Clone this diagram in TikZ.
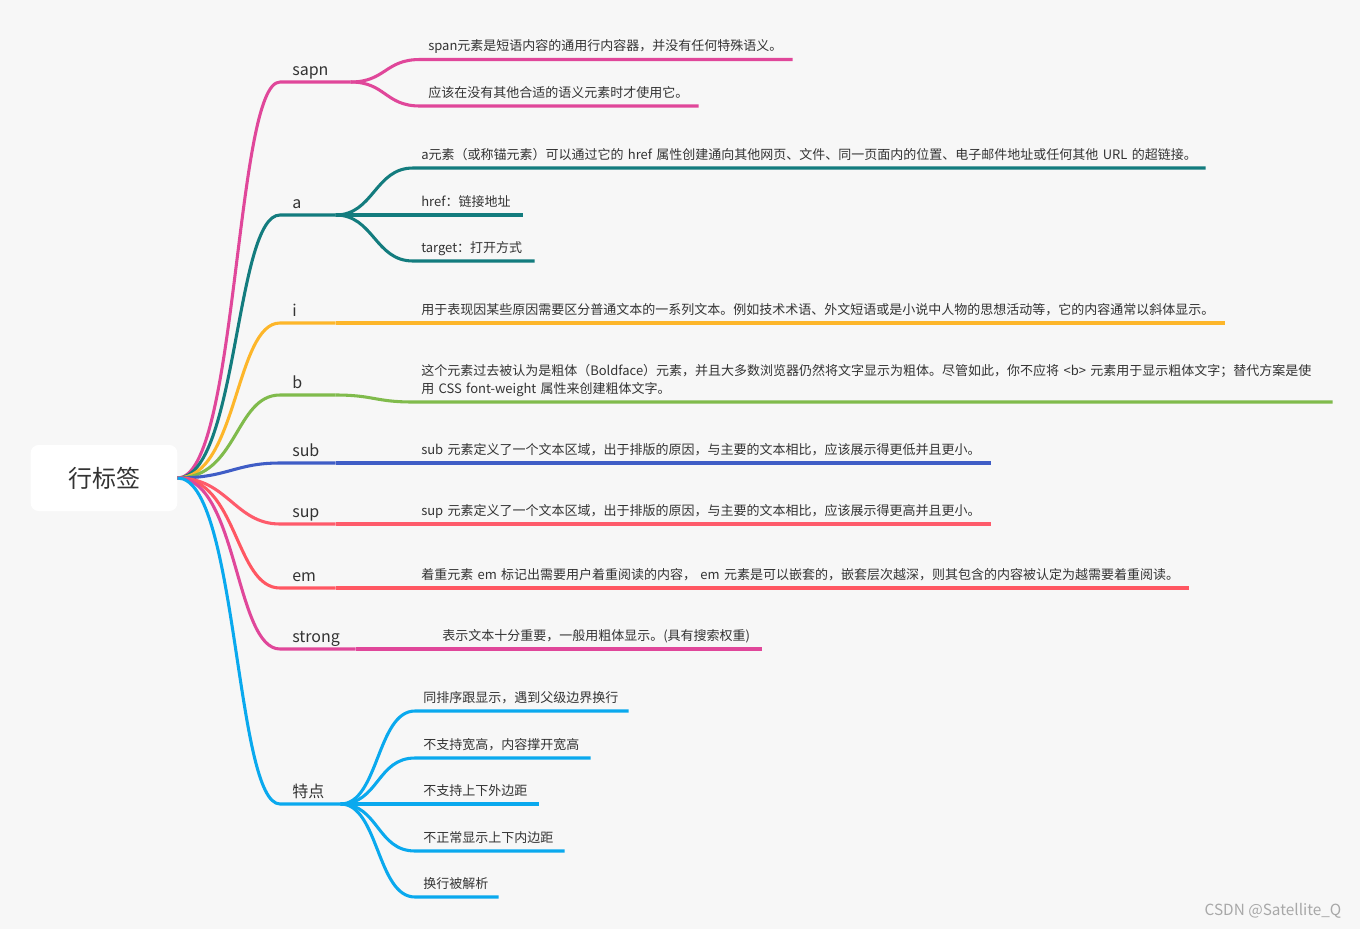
\documentclass[tikz,border=0pt]{standalone}
\usepackage{fontspec}
\setmainfont{Noto Sans CJK SC}
\usepackage{xcolor}
\definecolor{mmback}{HTML}{F7F7F7}
\definecolor{mmink}{HTML}{333333}
\definecolor{mmpink}{HTML}{E0479A}
\definecolor{mmteal}{HTML}{137C7E}
\definecolor{mmorange}{HTML}{FDB62A}
\definecolor{mmgreen}{HTML}{80BB4C}
\definecolor{mmblue}{HTML}{3F5DC6}
\definecolor{mmcoral}{HTML}{FE5B6B}
\definecolor{mmred}{HTML}{FF5762}
\definecolor{mmsky}{HTML}{0AA9EE}
\definecolor{mmmark}{HTML}{A8A8A8}

\begin{document}
\begin{tikzpicture}[
  x=0.75pt, y=-0.75pt,
  font=\rmfamily,
  rootcard/.style={
    fill=white,
    text=mmink,
    rounded corners=6pt,
    font=\fontsize{18}{22}\selectfont,
    minimum width=110pt,
    minimum height=49.5pt,
    inner sep=0pt
  },
  topic/.style={
    anchor=south west,
    text=mmink,
    align=left,
    font=\fontsize{12}{14}\selectfont,
    text width=#1,
    text depth=0pt,
    inner xsep=9pt,
    inner ysep=4.6pt
  },
  leaf/.style={
    anchor=south west,
    text=mmink,
    align=left,
    font=\fontsize{9.75}{13.5}\selectfont,
    text width=#1,
    text depth=0pt,
    inner xsep=6pt,
    inner ysep=6.4pt
  },
  branch/.style={
    draw=#1,
    line width=2.3pt,
    line join=round
  }
]
\path[fill=mmback] (0,0) rectangle (1360,929);
\useasboundingbox (0,0) rectangle (1360,929);

\node[rootcard] (root) at (104,478) {行标签};

\node[topic=34.5pt] (sapn) at (280,82) {sapn};
\node[leaf=267pt] (sapnA) at (420,59.5) {span元素是短语内容的通用行内容器，并没有任何特殊语义。};
\node[leaf=196.5pt] (sapnB) at (420,106) {应该在没有其他合适的语义元素时才使用它。};

\node[topic=23.25pt] (a) at (280,215) {a};
\node[leaf=582pt] (aA) at (413,168) {a元素（或称锚元素）可以通过它的~href~属性创建通向其他网页、文件、同一页面内的位置、电子邮件地址或任何其他~URL~的超链接。};
\node[leaf=69.75pt] (aB) at (413,215) {href：链接地址};
\node[leaf=78.75pt] (aC) at (413,261) {target：打开方式};

\node[topic=23.25pt] (i) at (280,323) {i};
\node[leaf=596.25pt] (iA) at (413,323) {用于表现因某些原因需要区分普通文本的一系列文本。例如技术术语、外文短语或是小说中人物的思想活动等，它的内容通常以斜体显示。};

\node[topic=23.25pt] (b) at (280,395) {b};
\node[leaf=677.25pt,text depth=13.5pt] (bA) at (413,402) {这个元素过去被认为是粗体（Boldface）元素，并且大多数浏览器仍然将文字显示为粗体。尽管如此，你不应将~<b>~元素用于显示粗体文字；替代方案是使\\用~CSS~font-weight~属性来创建粗体文字。};

\node[topic=23.25pt] (sub) at (280,463) {sub};
\node[leaf=420.75pt] (subA) at (413,463) {sub~元素定义了一个文本区域，出于排版的原因，与主要的文本相比，应该展示得更低并且更小。};

\node[topic=23.25pt] (sup) at (280,524) {sup};
\node[leaf=420.75pt] (supA) at (413,524) {sup~元素定义了一个文本区域，出于排版的原因，与主要的文本相比，应该展示得更高并且更小。};

\node[topic=23.25pt] (em) at (280,588) {em};
\node[leaf=569.25pt] (emA) at (413,588) {着重元素~em~标记出需要用户着重阅读的内容，~em~元素是可以嵌套的，嵌套层次越深，则其包含的内容被认定为越需要着重阅读。};

\node[topic=38.25pt] (strong) at (280,649) {strong};
\node[leaf=233.25pt] (strongA) at (434,649) {表示文本十分重要，一般用粗体显示。(具有搜索权重)};

\node[topic=27pt] (feat) at (280,804) {特点};
\node[leaf=147.75pt] (featA) at (415,711) {同排序跟显示，遇到父级边界换行};
\node[leaf=119.25pt] (featB) at (415,758) {不支持宽高，内容撑开宽高};
\node[leaf=80.25pt] (featC) at (415,804) {不支持上下外边距};
\node[leaf=99.75pt] (featD) at (415,851) {不正常显示上下内边距};
\node[leaf=50.25pt] (featE) at (415,897) {换行被解析};

\node[font=\fontsize{11.5}{13}\selectfont,text=mmmark,anchor=east] (mark) at (1346,911) {CSDN @Satellite\_Q};

\draw[branch=mmpink] (root.east) .. controls +(60,0) and +(-45,0) .. (sapn.south west) -- (sapn.south east);
\draw[branch=mmpink] (sapn.south east) .. controls +(35,0) and +(-35,0) .. (sapnA.south west) -- (sapnA.south east);
\draw[branch=mmpink] (sapn.south east) .. controls +(35,0) and +(-35,0) .. (sapnB.south west) -- (sapnB.south east);

\draw[branch=mmteal] (root.east) .. controls +(60,0) and +(-45,0) .. (a.south west) -- (a.south east);
\draw[branch=mmteal] (a.south east) .. controls +(38,0) and +(-38,0) .. (aA.south west) -- (aA.south east);
\draw[branch=mmteal] (a.south east) -- (aB.south west) -- (aB.south east);
\draw[branch=mmteal] (a.south east) .. controls +(38,0) and +(-38,0) .. (aC.south west) -- (aC.south east);

\draw[branch=mmorange] (root.east) .. controls +(60,0) and +(-45,0) .. (i.south west) -- (i.south east);
\draw[branch=mmorange] (i.south east) -- (iA.south west) -- (iA.south east);

\draw[branch=mmgreen] (root.east) .. controls +(60,0) and +(-45,0) .. (b.south west) -- (b.south east);
\draw[branch=mmgreen] (b.south east) .. controls +(38,0) and +(-38,0) .. (bA.south west) -- (bA.south east);

\draw[branch=mmblue] (root.east) .. controls +(50,0) and +(-45,0) .. (sub.south west) -- (sub.south east);
\draw[branch=mmblue] (sub.south east) -- (subA.south west) -- (subA.south east);

\draw[branch=mmcoral] (root.east) .. controls +(50,0) and +(-45,0) .. (sup.south west) -- (sup.south east);
\draw[branch=mmcoral] (sup.south east) -- (supA.south west) -- (supA.south east);

\draw[branch=mmred] (root.east) .. controls +(60,0) and +(-45,0) .. (em.south west) -- (em.south east);
\draw[branch=mmred] (em.south east) -- (emA.south west) -- (emA.south east);

\draw[branch=mmpink] (root.east) .. controls +(60,0) and +(-45,0) .. (strong.south west) -- (strong.south east);
\draw[branch=mmpink] (strong.south east) -- (strongA.south west) -- (strongA.south east);

\draw[branch=mmsky] (root.east) .. controls +(60,0) and +(-45,0) .. (feat.south west) -- (feat.south east);
\draw[branch=mmsky] (feat.south east) .. controls +(38,0) and +(-38,0) .. (featA.south west) -- (featA.south east);
\draw[branch=mmsky] (feat.south east) .. controls +(38,0) and +(-38,0) .. (featB.south west) -- (featB.south east);
\draw[branch=mmsky] (feat.south east) -- (featC.south west) -- (featC.south east);
\draw[branch=mmsky] (feat.south east) .. controls +(38,0) and +(-38,0) .. (featD.south west) -- (featD.south east);
\draw[branch=mmsky] (feat.south east) .. controls +(38,0) and +(-38,0) .. (featE.south west) -- (featE.south east);
\end{tikzpicture}
\end{document}
